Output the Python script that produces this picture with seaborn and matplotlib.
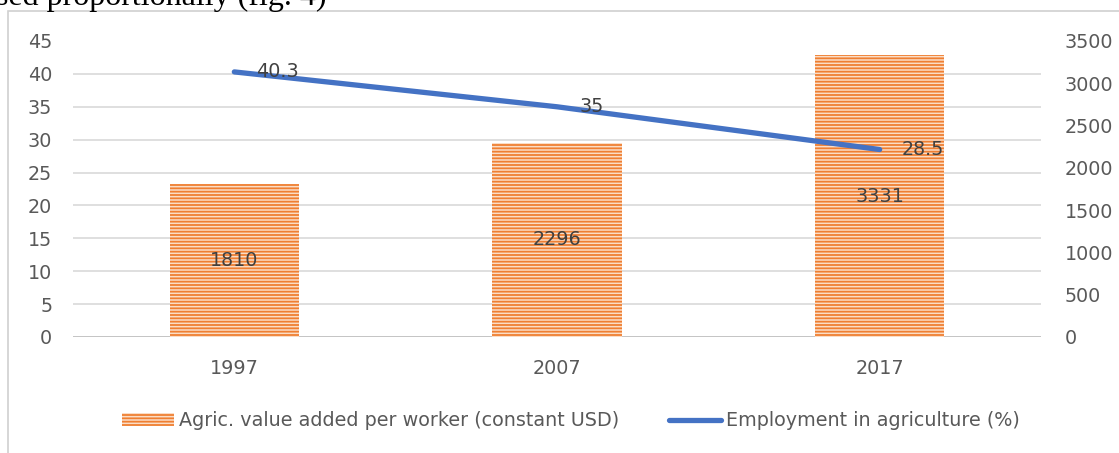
import matplotlib
matplotlib.use("Agg")
import matplotlib.pyplot as plt
from matplotlib.patches import Rectangle
from matplotlib.lines import Line2D
import seaborn as sns
import numpy as np
import pandas as pd

# Data
years = ["1997", "2007", "2017"]
value_added = [1810, 2296, 3331]          # Agric. value added per worker (constant USD)
employment = [40.3, 35.0, 28.5]           # Employment in agriculture (%)
left_ticks = [0, 5, 10, 15, 20, 25, 30, 35, 40, 45]
right_ticks = [0, 500, 1000, 1500, 2000, 2500, 3000, 3500]

bar_label = "Agric. value added per worker (constant USD)"
line_label = "Employment in agriculture (%)"

sns.set_theme(style="white")
plt.rcParams["font.family"] = ["DejaVu Sans"]
plt.rcParams["hatch.linewidth"] = 1.3

TXT = "#595959"
LBL = "#404040"
GRID = "#D9D9D9"
BLUE = "#4472C4"
ORANGE_FACE = "#FBDDC6"
ORANGE_LINE = "#EF7F32"
FS = 13.8

fig = plt.figure(figsize=(11.19, 4.53), dpi=100)
ax_bar = fig.add_axes([73 / 1119, 1 - 337 / 453, (1041 - 73) / 1119, (337 - 41) / 453])

df = pd.DataFrame({"year": years, "value": value_added, "emp": employment})

# Bars on the right-hand scale
sns.barplot(data=df, x="year", y="value", ax=ax_bar, width=0.4,
            color=ORANGE_FACE, saturation=1, zorder=2)
for p in ax_bar.patches:
    p.set_hatch("-----")
    p.set_edgecolor(ORANGE_LINE)
    p.set_linewidth(0)
ax_bar.set_ylim(0, 3500)
ax_bar.set_xlim(-0.5, 2.5)
ax_bar.set_yticks(right_ticks)
# gridlines follow the left-hand scale divisions
ax_bar.set_yticks(np.linspace(0, 3500, len(left_ticks)), minor=True)
ax_bar.grid(False)
ax_bar.yaxis.grid(True, which="minor", color=GRID, linewidth=1.2, zorder=0)
ax_bar.set_axisbelow(True)
for c in ax_bar.containers:
    ax_bar.bar_label(c, label_type="center", color=LBL, fontsize=FS)

# Line on the left-hand scale
ax_line = ax_bar.twinx()
sns.lineplot(data=df, x="year", y="emp", ax=ax_line, color=BLUE, linewidth=3.8,
             solid_capstyle="round", sort=False, zorder=3)
ax_line.set_ylim(0, 45)
ax_line.set_yticks(left_ticks)
ax_line.set_xlim(-0.5, 2.5)
for i, v in enumerate(employment):
    ax_line.annotate(f"{v:g}", (i, v), xytext=(16, 0), textcoords="offset points",
                     ha="left", va="center", color=LBL, fontsize=FS)

# scale sides: percentages on the left, USD on the right
ax_line.yaxis.tick_left()
ax_line.yaxis.set_label_position("left")
ax_bar.yaxis.tick_right()
ax_bar.yaxis.set_label_position("right")

for a in (ax_bar, ax_line):
    for s in a.spines.values():
        s.set_visible(False)
    a.set_xlabel("")
    a.set_ylabel("")
    a.tick_params(axis="both", which="both", length=0, labelsize=FS, labelcolor=TXT)
    if a.get_legend():
        a.get_legend().remove()
ax_bar.tick_params(axis="y", which="both", right=False, left=False, pad=17)
ax_line.tick_params(axis="y", pad=15)
ax_bar.tick_params(axis="x", pad=16)
ax_bar.axhline(0, color="#BFBFBF", linewidth=1.3, zorder=1)

# Legend
handles = [
    Rectangle((0, 0), 1, 1, facecolor=ORANGE_FACE, edgecolor=ORANGE_LINE,
              hatch="-----", linewidth=0),
    Line2D([0], [0], color=BLUE, linewidth=3.8, solid_capstyle="round"),
]
fig.legend(handles, [bar_label, line_label], loc="center",
           bbox_to_anchor=(571 / 1119, 1 - 421 / 453), ncol=2, frameon=False,
           fontsize=FS, labelcolor=TXT, handlelength=2.7, handleheight=0.65,
           handletextpad=0.25, columnspacing=2.6)

# Chart frame
fig.add_artist(Rectangle((8 / 1119, -0.1), 1.2, 1.1 - 11 / 453, transform=fig.transFigure,
                         fill=False, edgecolor="#D0D0D0", linewidth=1.2))

# Running text line above the chart
fig.text(-0.004, 1 - 5 / 453, "sed proportionally (fig. 4)", family="Liberation Serif",
         fontsize=23, color="black", va="baseline", ha="left")

fig.savefig("out.png", dpi=100)
